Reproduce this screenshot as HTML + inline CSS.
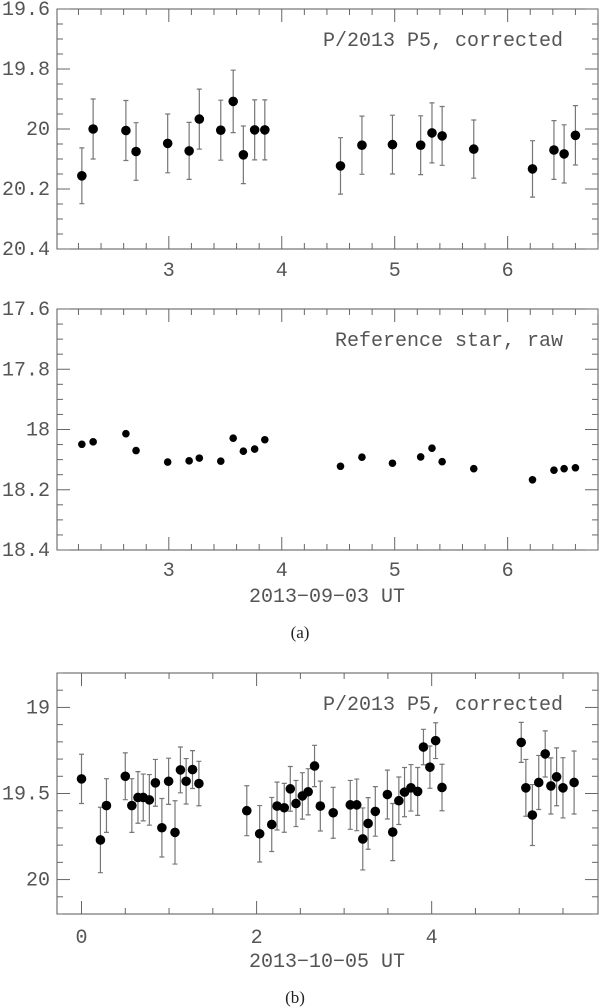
<!DOCTYPE html>
<html><head><meta charset="utf-8"><style>
html,body{margin:0;padding:0;background:#fff;}
svg{display:block;}
text{font-family:"Liberation Mono",monospace;fill:#555;}
text.cap{font-family:"Liberation Serif",serif;fill:#222;}
</style></head><body>
<svg id="fig" width="600" height="1008" viewBox="0 0 600 1008"></svg>
<script>
// Panel 1: P/2013 P5 corrected (2013-09-03)
const p1X=[2.23,2.33,2.62,2.71,2.99,3.18,3.27,3.46,3.57,3.66,3.76,3.85,4.52,4.71,4.98,5.23,5.33,5.42,5.70,6.22,6.41,6.50,6.60];
const p1Y=[20.156,20.0,20.005,20.075,20.048,20.073,19.967,20.004,19.908,20.086,20.003,20.003,20.123,20.054,20.052,20.054,20.013,20.023,20.067,20.133,20.07,20.083,20.021];
const p1E=[0.093,0.1,0.1,0.096,0.098,0.095,0.1,0.1,0.104,0.096,0.1,0.1,0.094,0.097,0.098,0.098,0.1,0.098,0.097,0.094,0.098,0.097,0.099];
// Panel 2: reference star raw
const p2X=p1X;
const p2Y=[18.049,18.041,18.014,18.07,18.108,18.104,18.095,18.105,18.029,18.072,18.065,18.034,18.122,18.092,18.112,18.091,18.062,18.107,18.13,18.167,18.135,18.13,18.127];
// Panel 3: P/2013 P5 corrected (2013-10-05)
const p3X=[0,0.216,0.285,0.50,0.575,0.645,0.705,0.775,0.844,0.918,0.995,1.068,1.13,1.195,1.268,1.341,1.888,2.035,2.173,2.234,2.316,2.385,2.45,2.523,2.589,2.662,2.728,2.875,3.07,3.144,3.213,3.274,3.356,3.494,3.555,3.625,3.69,3.763,3.84,3.906,3.98,4.045,4.118,5.023,5.076,5.15,5.223,5.297,5.362,5.427,5.5,5.627];
const p3Y=[19.415,19.77,19.57,19.40,19.57,19.523,19.523,19.537,19.438,19.699,19.429,19.726,19.363,19.429,19.361,19.442,19.60,19.734,19.68,19.573,19.583,19.473,19.558,19.514,19.49,19.34,19.573,19.612,19.566,19.566,19.764,19.674,19.604,19.506,19.724,19.542,19.492,19.467,19.488,19.23,19.347,19.193,19.465,19.203,19.467,19.625,19.436,19.27,19.456,19.403,19.467,19.436];
const p3E=[0.143,0.19,0.156,0.136,0.156,0.15,0.136,0.147,0.136,0.17,0.134,0.184,0.133,0.132,0.11,0.129,0.145,0.164,0.157,0.139,0.142,0.13,0.134,0.135,0.134,0.12,0.145,0.148,0.142,0.15,0.18,0.15,0.144,0.142,0.166,0.138,0.143,0.135,0.139,0.103,0.123,0.104,0.135,0.116,0.165,0.177,0.157,0.134,0.163,0.168,0.175,0.183];
const p1XTicks=["3","4","5","6"];
const p1YTicks=["19.6","19.8","20","20.2","20.4"];
const p2YTicks=["17.6","17.8","18","18.2","18.4"];
const p3XTicks=["0","2","4"];
const p3YTicks=["19","19.5","20"];

const NS="http://www.w3.org/2000/svg";
const svg=document.getElementById('fig');
function mk(tag,attrs,parent){const e=document.createElementNS(NS,tag);for(const k in attrs)e.setAttribute(k,attrs[k]);(parent||svg).appendChild(e);return e;}
function txt(x,y,s,anchor,size,parent){const t=mk('text',{x:x,y:y,'text-anchor':anchor,'font-size':size},parent);t.textContent=s;return t;}

function panel(cfg){
  const g=mk('g',{});
  
  
  const L=57,R=598,T=cfg.top,B=cfg.bottom;
  const sx=v=>L+(v-cfg.x0)/(cfg.x1-cfg.x0)*(R-L);
  const sy=v=>T+(v-cfg.y0)/(cfg.y1-cfg.y0)*(B-T);
  const fr=mk('rect',{x:L,y:T,width:R-L,height:B-T,fill:'none',stroke:'#555','stroke-width':1},g);
  
  
  for(let v=Math.ceil(cfg.x0/cfg.xmin-1e-9)*cfg.xmin;v<=cfg.x1+1e-9;v+=cfg.xmin){
    const maj=Math.abs(v/cfg.xmaj-Math.round(v/cfg.xmaj))<1e-6;
    const len=maj?13:6;const x=sx(v);
    mk('line',{x1:x,x2:x,y1:B,y2:B-len,stroke:'#666'},g);
    mk('line',{x1:x,x2:x,y1:T,y2:T+len,stroke:'#666'},g);
  }
  for(let v=Math.ceil(cfg.y0/cfg.ymin-1e-9)*cfg.ymin;v<=cfg.y1+1e-9;v+=cfg.ymin){
    const maj=Math.abs(v/cfg.ymaj-Math.round(v/cfg.ymaj))<1e-6;
    const len=maj?13:6;const y=sy(v);
    mk('line',{x1:L,x2:L+len,y1:y,y2:y,stroke:'#666'},g);
    mk('line',{x1:R,x2:R-len,y1:y,y2:y,stroke:'#666'},g);
  }
  cfg.xt.forEach(s=>{const t=txt(sx(parseFloat(s)),cfg.xLabY,s,'middle',20,g);
    
    });
  cfg.yt.forEach(s=>{const t=txt(50,sy(parseFloat(s))+6,s,'end',20,g);
    
    });
  const a=txt(563,T+37,cfg.label,'end',20,g);
  
  
  cfg.xs.forEach((xv,i)=>{
    const x=sx(xv),y=sy(cfg.ys[i]);
    if(cfg.es){const e=cfg.es[i];const y1=sy(cfg.ys[i]-e),y2=sy(cfg.ys[i]+e);
      const eb=mk('path',{d:`M${x},${y1}V${y2}M${x-2.5},${y1}H${x+2.5}M${x-2.5},${y2}H${x+2.5}`,stroke:'#777','stroke-width':1.2,fill:'none'},g);
      
      }
    const c=mk('circle',{cx:x,cy:y,r:cfg.r,fill:'#000'},g);
    
    
  });
}
panel({name:'panel-a-comet',top:9,bottom:249,x0:2.01,x1:6.8,y0:19.6,y1:20.4,xmaj:1,xmin:0.2,ymaj:0.2,ymin:0.05,xt:p1XTicks,yt:p1YTicks,xLabY:276,label:'P/2013 P5, corrected',xs:p1X,ys:p1Y,es:p1E,r:4.8});
panel({name:'panel-a-reference-star',top:309,bottom:550,x0:2.01,x1:6.8,y0:17.6,y1:18.4,xmaj:1,xmin:0.2,ymaj:0.2,ymin:0.05,xt:p1XTicks,yt:p2YTicks,xLabY:576,label:'Reference star, raw',xs:p2X,ys:p2Y,es:null,r:3.8});
panel({name:'panel-b-comet',top:673,bottom:914,x0:-0.28,x1:5.9,y0:18.8,y1:20.2,xmaj:2,xmin:0.5,ymaj:0.5,ymin:0.1,xt:p3XTicks,yt:p3YTicks,xLabY:943,label:'P/2013 P5, corrected',xs:p3X,ys:p3Y,es:p3E,r:4.8});
let t;
t=txt(327,602,'2013\u221209\u221203 UT','middle',20);


t=txt(300,638,'(a)','middle',17);
t.setAttribute('class','cap');


t=txt(327,967,'2013\u221210\u221205 UT','middle',20);


t=txt(295,1003,'(b)','middle',17);
t.setAttribute('class','cap');


</script>
</body></html>
